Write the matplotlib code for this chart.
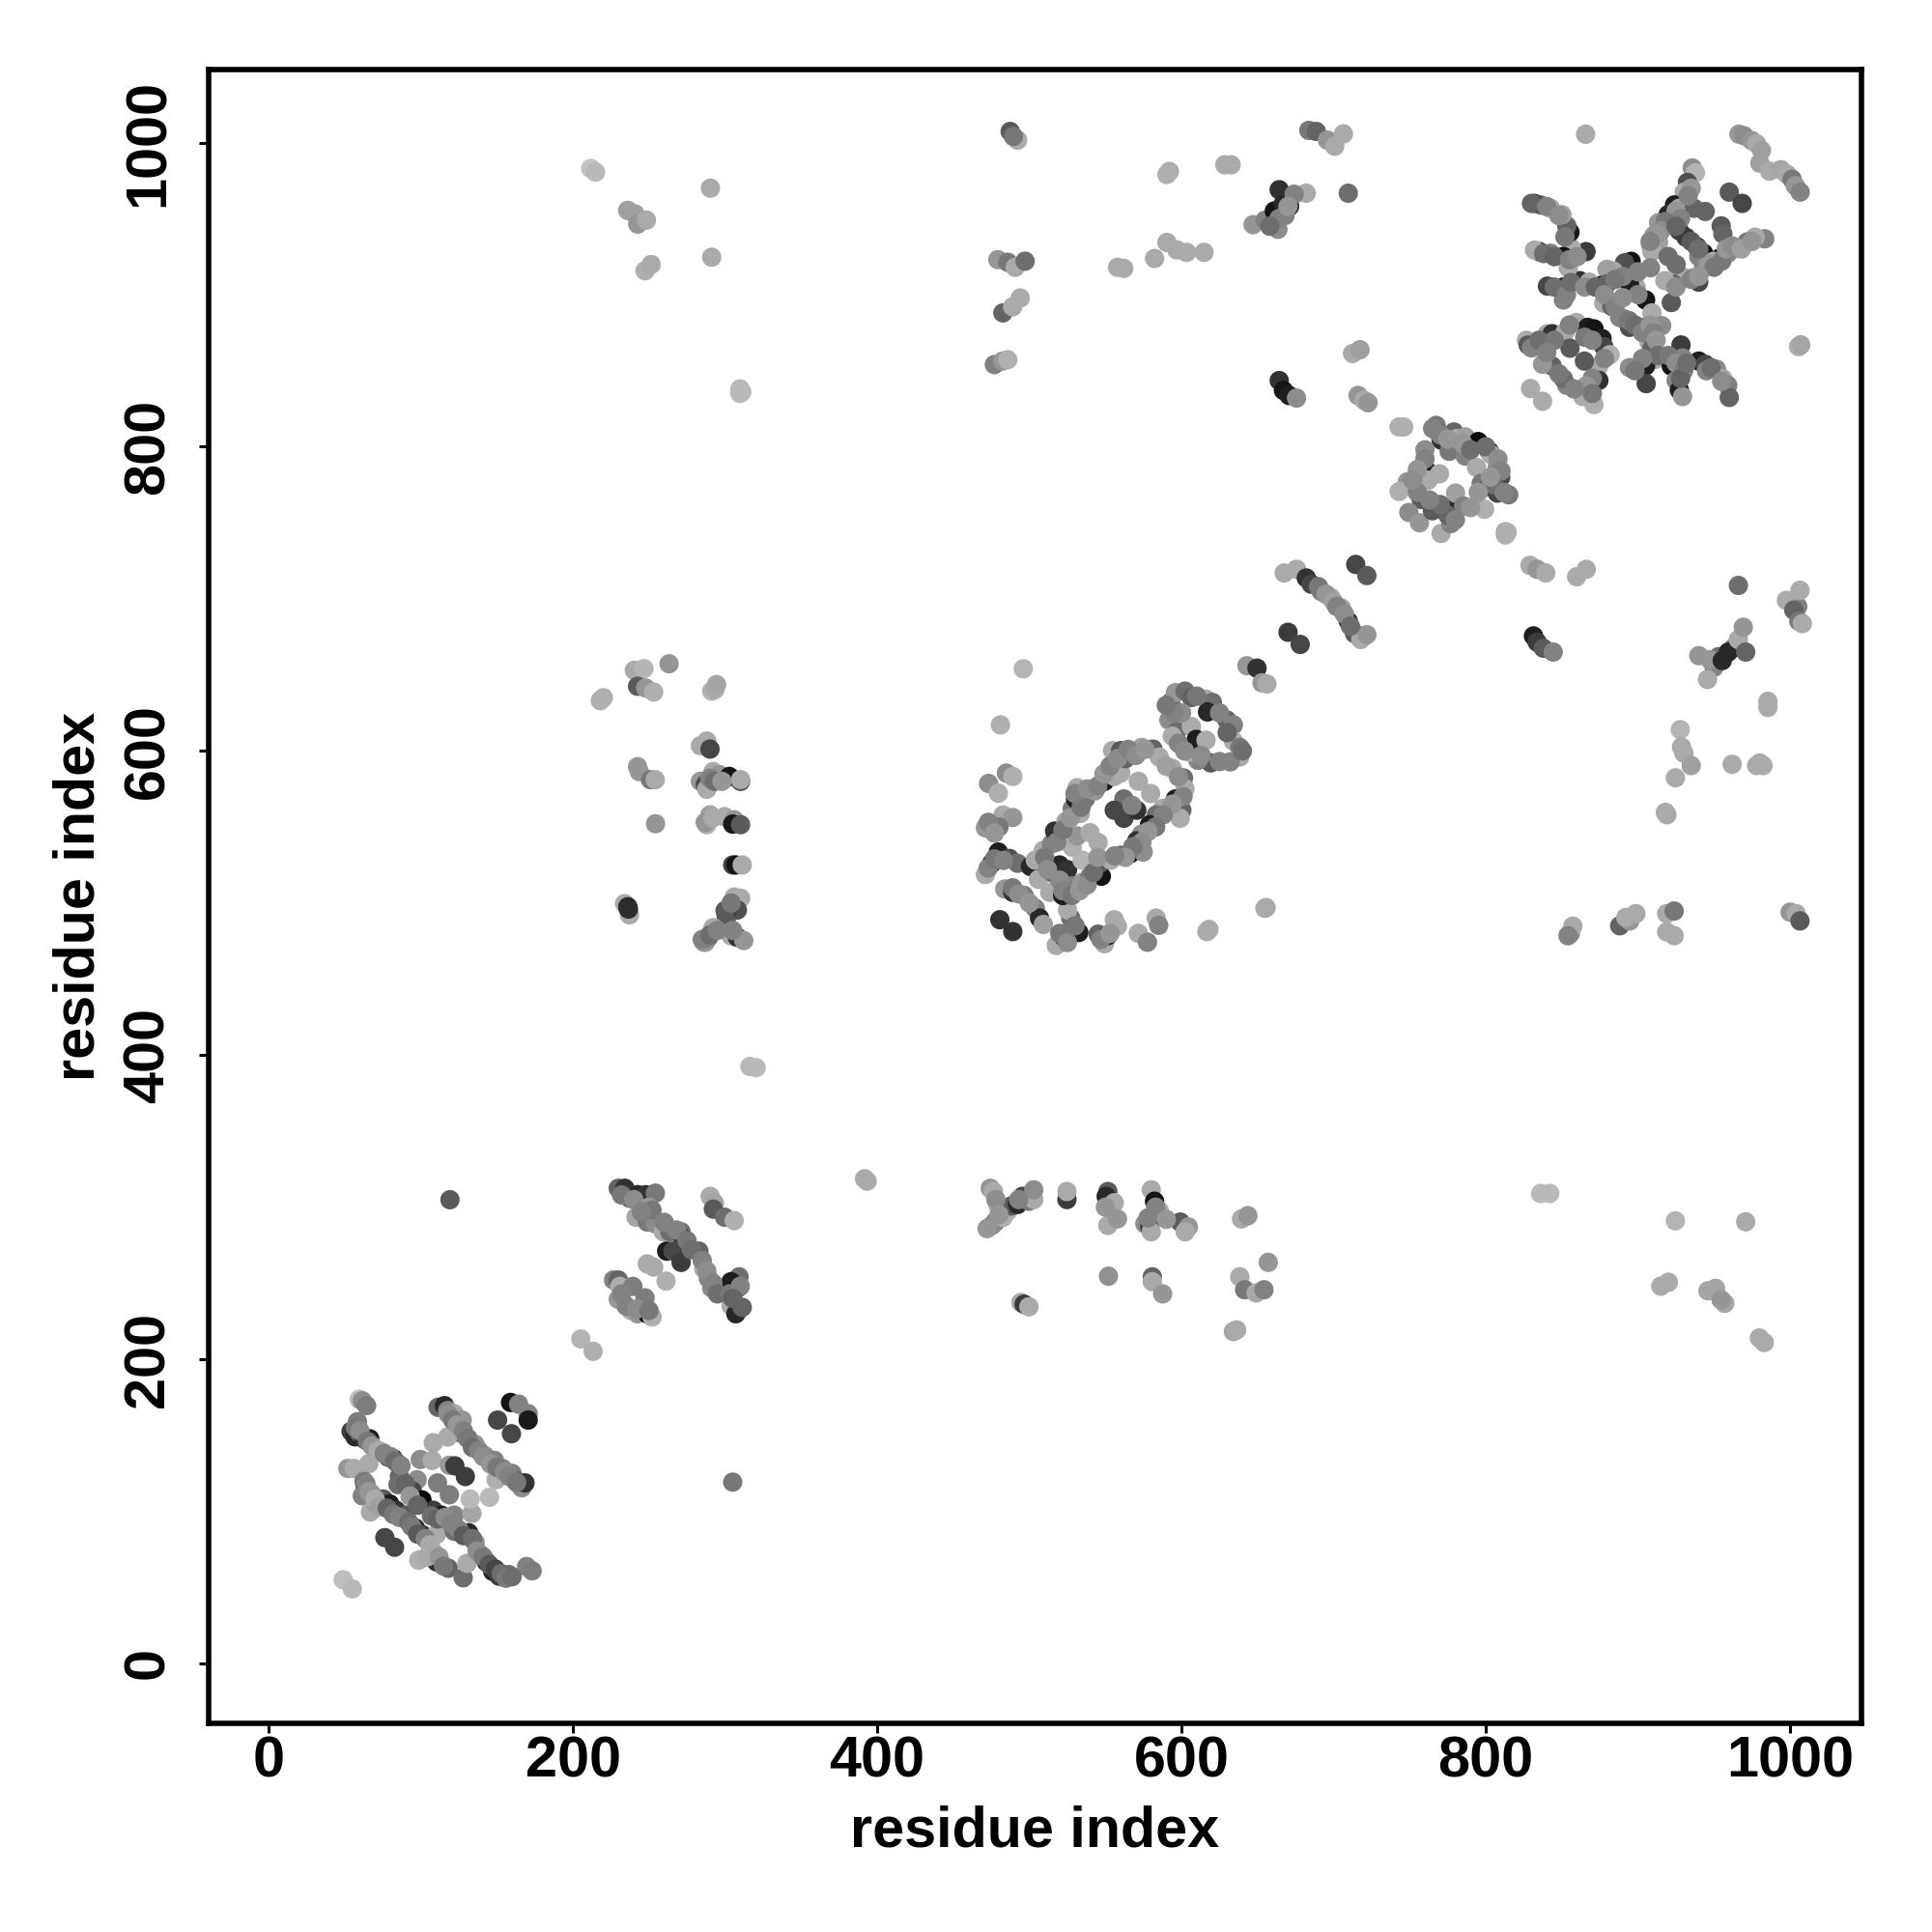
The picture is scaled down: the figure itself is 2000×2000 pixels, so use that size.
import matplotlib
matplotlib.use('Agg')
import matplotlib.pyplot as plt

# contact pairs, region by region (residue i, residue j, grey level)
nterm_x = [59.5,61.6,64.4,58.4,54.2,56.8,59.5,62.7,66.5,70,74.3,78.5,82,84.9,86,85,97.6,94.4,100.8,108.2,113.5,122,133.6,132.5,145.2,149.5,
           111.4,115.6,117.7,122,127.2,126.2,130.4,135.7,142,145.2,148.4,153.7,160,166.4,162,168.5,159,164.3,170.6,170.6,150.5,159.6,
           108.2,117.7,99.7,107.5,118.8,122.4,129.3,111,118.8,52.1,56.3,65.9,62.7,63.7,61.6,68,66.9,75.4,70.1,79.6,83.8,90.2,96.5,100.8,110.3,122,131.5,135.7,
           76.4,82.8,98.7,108.2,110.3,118.1,127.9,130.4,139.9,143.1,147.3,151.6,157.9,169.6,173.2,49,55]
nterm_y = [173.7,172.7,169.5,158.9,152.6,149,151.5,147.7,147.7,140.9,138.8,135.6,134.6,131.4,122.9,117.6,120.8,113.4,107.5,100.7,97.5,97.5,98.6,108.1,109.2,120.8,
           168.4,169.5,166.3,164.2,160,151.5,148.3,144.1,136.7,133.5,133.5,128.2,125,115.5,120.8,118.7,171.6,170.5,164.2,160,160,151,
           145.1,148.9,134.1,133.5,130.3,129.9,122.9,118.7,110.9,128.2,128.2,131.4,119.7,115.5,110.2,111.3,99.6,108.1,104.9,104.9,100.7,97.5,89,84.8,84.8,86.9,85.9,79.5,
           82.7,76.4,67.9,73.2,66.8,62.6,56.3,65.8,71.1,66.8,60.5,57.3,58.4,63.7,60.9,55,49]
nterm_g = [190,140,125,125,60,40,90,50,30,175,120,100,30,120,100,110,140,70,8,60,30,130,165,185,185,175,
           100,40,130,170,150,90,140,150,150,40,130,130,130,140,100,50,20,130,130,25,70,70,
           170,170,140,170,150,60,60,125,125,150,170,170,120,40,130,170,170,90,160,30,50,90,40,60,170,110,40,140,
           70,70,175,170,50,100,110,170,160,30,40,60,110,130,125,190,185]
nterm_fill_x = [57,60,65,68,72,76,80,83,87,64,66,70,73,78,82,86,92,94,98,103,106,104,112,115,
                90,93,98,107,111,116,120,125,128,134,137,141,145,149,153,156,160,
                118,121,124,128,131,134,138,141,146,150,155,158,163]
nterm_fill_y = [155,153,146,143,140,138,136,133,130,118,113,108,103,102,98,96,93,90,85,82,78,70,70,64,
                118,110,104,97,95,96,92,88,84,82,74,70,65,62,59,56,57,
                164,160,157,153,148,142,140,136,131,129,126,123,119]
nterm_fill_g = [120,140,120,150,170,130,130,110,130,130,150,170,160,100,120,130,110,120,90,130,170,170,150,120,
                100,150,100,110,100,140,130,130,90,110,140,120,90,70,110,120,110,
                140,120,150,130,120,110,130,140,150,120,140,130,120]

dom2_x = [205.2,213.3,229.8,234.1,237.3,242.5,247.8,254.2,241.5,248.9,254.2,259.5,263.7,271.1,272.2,261.6,265.8,271.1,282.8,286,289.1,291.2,
          309.2,303.9,308.2,303.9,307.1,311.3,290.2,292.9,292.3,299.7,306,248.9,253.1,261.2,226.7,229.8,230.9,239.4,229.8,247.4,238.3,242.5,248.9,252.1]
dom2_y = [213.3,205.2,312.4,312.4,306,308.2,308.2,309.2,293.4,290.2,289.1,283.8,283.8,283.8,279.6,271.1,271.1,263.7,271.1,259.5,253.1,246.8,
          254.2,251,246.8,235.2,229.9,234.1,307.1,302.9,298.7,293.4,291.2,262.7,260.6,251.4,252.1,252.1,247.9,247.9,239.4,240.4,232,229.9,229.9,227.8]
dom2_g = [180,175,100,50,90,40,50,120,165,120,140,170,110,110,60,30,70,60,100,170,130,140,
          110,30,20,170,40,100,170,165,90,110,175,170,170,175,130,100,175,125,150,125,170,150,20,175]
dom2_fill_x = [232,240,250,252,245,260,268,275,278,285,288,292,295,303,310,305,232,235,242,250]
dom2_fill_y = [308,305,300,298,297,290,285,278,272,265,258,250,243,243,248,240,243,235,233,232]
dom2_fill_g = [120,140,150,120,130,130,130,120,110,130,140,130,110,120,130,100,130,130,140,120]

row300_x = [474.3,476.4,479.6,486,477.5,475.4,472.2,482.8,488.1,492.3,495.5,499.7,502.9,502.9,524.7,524.7,551.6,550.5,555.8,551.6,557.9,
            580.1,582.3,585.4,575.9,579.1,580.1,599.2,604.5,602.4,639.4,643.6,552,580.8,580.8,587.6,657,638.3,641.5,649,654.2,494.4,496.5,499.7,634.1,636.2,
            478,480,493,550,583,578,590]
row300_y = [312.4,310.3,300.8,297.6,290.2,288,285.9,293.4,300.8,301.8,307.1,303.9,305,311.4,305,310.3,310.3,307.1,302.9,288,292.3,
            311.4,303.9,297.6,289.1,287,283.8,290.2,287,283.8,292.3,294.4,254.6,254.2,251,243,263.7,254.2,245.7,243.6,245.7,237.3,236.2,234.5,218.2,219.3,
            305,295,305,300,300,293,292]
row300_g = [150,170,170,175,110,140,150,175,90,40,70,120,170,140,60,170,90,40,170,170,150,
            170,20,170,140,60,170,90,150,170,170,150,145,100,170,150,150,170,120,170,130,170,60,170,165,170,
            140,150,130,150,130,130,150]

col300_x = [218,220,240.4,246.7,263.2,242.5,247.8,253.1,291.2,293.3,294.4,283.8,288,290.1,242.5,243.6,251,254.1,283.8,287,288,292.2,296.5,302.8,310.2,310.2,
            254.3,288,290.1,299.6,306,305,310.2,305,307,311.3,234,236.1,237.2,236.5,306,310.2,308.1,300.7,300.7,292.2,285.9,287,289.1,303.9,308.1,312.3,
            290,293,298,287,292,285,290,295,300,304,305]
col300_y = [633,635,653,654.1,657.3,642.5,641.4,638.7,639.3,640.4,643.6,603.4,606.5,601.2,589.6,586.4,581.1,581.1,580,577.9,574.8,586.4,584.3,583.2,580,581.1,
            552.1,551.5,557.9,556.8,554.7,551.9,551.5,525,525,525,499.6,497.5,492.2,496,503.9,503.2,495.4,492.2,488,483.8,474.2,474.2,477.4,478.5,477.4,475.3,
            582,580,580,553,556,476,479,482,495,500,482]
col300_g = [175,175,170,180,150,90,150,175,180,170,165,170,170,70,150,150,120,170,150,80,170,170,150,20,70,170,
            150,175,160,170,150,25,90,70,20,170,170,40,170,45,170,170,80,60,90,170,170,150,130,170,50,150,
            130,110,150,150,170,130,110,130,90,120,130]

dom3_x = [496,481,484.9,489.1,473.2,479.6,471.1,475.3,482.7,489.1,471.1,475.3,479.6,487,492.3,483.8,489.1,496.5,503.9,506.7,509.2,480.6,489.1,
          517.7,522.9,527.2,532.5,527.2,525.1,545.2,549.4,551.5,557.9,555.8,571.6,583.3,585,577.6,616.7,654.8,
          500.7,503.9,509.2,514.5,516.6,506,513.4,515.5,519.8,525.1,521.9,528.2,534.6,539.9,547.3,546.2,534.6,528.2,531.4,539.9,545.2,524,528.2,533.5,530.4,536.7,531.4,543,549.4,555.8,560,
          554.7,560,563.2,568.5,573.7,581.2,585.4,593.9,601.3,602.3,596,600.2,599.1,571.6,579.7,562.1,555.8,562.1,570.6,567.4,587.5,583.3,579,573.7,570.6,566.3,574.8,560,553.6,
          592.8,596,602.3,606.5,616.1,620.3,617.1,629.8,634.1,634.1,638.3,638.3,632,619.2,610.8,605.5,591.7,597,593.9,606.5,609.7,616.1]
dom3_y = [654,617.1,585.4,583.2,578.6,572.2,549.4,551.5,557.8,556.2,518.7,526.1,533.5,529.3,526.1,509.2,507,505,496.5,490.1,485.9,489,481.2,
          472.1,477.4,479.5,480.6,490.1,495.4,479.5,473.2,478.5,484.8,489,480,490.1,485.3,474.2,481.2,496.5,
          524,528.2,534.6,538.8,547.3,515.5,507,519.7,525,521.9,504.9,511.3,513.4,517.6,517.6,526.1,528.2,536.7,544.1,546.2,539.8,553.6,562.1,558.9,568.4,568.4,575.8,573.7,580,583.2,585.4,
          600.2,600.2,594.9,599.1,602.3,601.2,595.9,588.5,582.2,575.2,568.4,561,555.7,580,572,568.4,561,555.7,561,564.2,562.1,557.8,551.5,545.2,540.9,532.4,533.5,531.4,528.2,
          631.9,638.3,639.3,635.1,634,631.9,625.6,620.3,617.1,606.5,602.3,596,592.8,592.1,593.8,599.1,620.3,612.9,609.7,616,607.6,607]
dom3_g = [180,175,140,175,140,175,150,30,170,150,170,20,30,80,110,150,50,125,130,40,160,50,50,
          170,30,40,30,110,170,100,170,30,170,170,170,170,130,130,170,170,
          40,170,170,130,50,170,170,110,40,50,30,130,150,120,20,90,180,175,150,170,170,165,120,170,30,110,170,150,20,170,170,
          170,90,100,30,160,100,170,170,110,170,30,100,170,170,170,110,70,70,50,130,170,110,30,140,50,20,140,110,170,
          100,150,110,100,170,110,40,100,130,170,120,170,130,90,130,170,140,110,170,170,30,170]
dom3_fill_x = [510,512,520,522,528,533,538,542,545,518,522,527,534,530,538,545,549,553,558,565,570,576,590,598,601,594,588,583,578,574,568,563,556,
               480,473,477,473,477,483,489,493,500,520,525,530,547,553,600,595,590,598,602,613,625,640,625,610,630]
dom3_fill_y = [530,522,515,508,505,508,512,520,530,540,548,556,563,572,575,577,585,590,595,601,597,601,590,583,570,565,558,550,547,540,537,530,531,
               550,553,546,523,529,528,510,506,500,480,474,485,476,480,625,625,630,605,600,597,593,600,625,636,612]
dom3_fill_g = [120,140,140,130,120,150,140,110,150,130,120,150,120,130,140,130,150,130,140,130,140,150,160,140,130,150,130,120,150,140,120,150,130,
               120,130,150,130,120,130,120,140,150,120,140,120,130,150,140,130,120,130,140,140,130,110,130,120,100]

diag_x = [643,649.6,652.9,656.1,670,678,667.5,675.6,682,685.3,691.8,698.3,705,709.6,713.7,717.8,721.8,714.5,721.8,
          743,746,767.4,768.5,770.6,775.9,779,781.2,786.5,786.5,795,802.3,803.4,807.6,809.8,793.9,797,801.3,807.6,815,799.2,812.9,812.9,
          760,761.1,769.5,748.4,743,757.9,762.1,757.5,749.4,756.4,764.9,770.6,777,775.9,780.1,785.4,
          829,833.7,839.4,859.7,866,831.3,833.7,837.8,844.3]
diag_y = [656,654.4,644.8,644,678,670,717,719.4,713.7,709.6,704.8,700.7,694,685.3,677.2,673.2,676.4,722.6,715.3,
          813,813,814,809.7,804.4,797,809.7,805.5,806.5,793.8,803.4,797,794.9,786.4,780,786.4,775.9,773.7,769.5,768.4,758.9,742,744.1,
          798,784.3,782.2,776.9,770.6,776.9,778,765.3,756.8,750,757.9,743,749.4,758.9,769.5,761,
          722,719.4,717,714.5,719.4,675.6,671.5,667.5,665]
diag_g = [150,50,150,170,60,70,170,170,50,70,130,170,160,50,90,170,150,70,90,
          175,175,120,100,50,120,100,170,160,130,10,30,170,140,70,170,120,100,70,120,175,175,170,
          140,30,170,150,175,100,170,90,140,150,90,170,130,40,160,130,
          170,150,170,170,170,30,60,90,130]
diag_fill_x = [765,770,775,785,790,800,808,810,805,803,812,795,760,755,755,752,775,780,790,770,763,
               690,695,700,702,707,711,950,953,963,1005]
diag_fill_y = [812,808,805,802,798,800,792,784,775,780,770,770,792,785,770,778,755,752,760,762,765,
               708,703,698,695,690,682,655,662,668,695]
diag_fill_g = [130,130,150,150,110,110,140,130,110,150,130,150,130,150,130,140,100,130,150,110,130,
               120,150,160,130,140,110,130,110,130,130]

topleft_x = [211.7,214.9,236,240.9,242.6,248.3,247.4,251.4,290.4,291.2,309.8,309.8,311]
topleft_y = [983,980.5,955.4,953,946.4,949,915.7,919.8,970,924.6,838,835,836]
topleft_g = [195,185,160,160,150,170,175,170,170,170,185,185,185]

topmid_x = [487.4,492.3,489.5,683.7,688.6,695.9,700.7,706.4,632.6,628.5,592,590.4,647,655,663.4,664.2,661,667,671,682,674,709.6,
            479.3,485.8,490.7,497.2,482.6,489,494,477,482.6,485.8,558,562,582.3,590.4,596.9,603.4,614.8,712.4,717.3,716,720,722.6,664.2,667,670.7,675.6,
            664,668,658,670]
topmid_y = [1007.3,1001.6,1004,1008,1007.3,1001.6,997.6,1005.7,985.4,985.4,981,979,946,949,943,969,955,960,958,966.7,966,966.7,
            923,921.3,918,922,888,892,897.8,854,856.4,857.2,918,917.3,923.8,934.3,929.4,927.8,927.8,861.3,863.8,833.7,830.5,828.9,843.5,837,833.7,832,
            950,952,945,958]
topmid_g = [90,170,120,120,100,150,170,170,170,170,170,175,150,130,140,50,20,40,30,170,130,110,
            150,120,170,110,100,170,170,130,150,175,170,170,170,170,170,170,170,170,160,150,170,150,50,20,30,140,
            130,130,110,150]

cross_x = [966.4,969.6,974.8,978,981.2,980.1,986.5,993.9,998.1,1001.3,1003.4,1006.6,935.7,937.8,932.5,930.4,924,927.2,919.8,913.5,918.8,910.3,908.2,913.5,909.2,
           936.8,944.2,927.2,931.5,938.9,943.1,954.7,955.8,960,968.5,983.3,977,971.7,965.3,959,953.7,949.4,943.1,936.8,939.9,930.4,923,917.7,919.8,925.1,908.2,
           895.5,891.2,883.8,879.6,875.4,879.6,865.9,856.3,851,842.6,835.2,832,855.3,853.2,850,842.6,836.2,832,840.5,851,851,861.6,868,854.2,
           877.5,882.8,891.2,894.4,898.7,894.4,905,909.2,921.9,915.6,905,907.1,909.2,911.4,894.4,905,905.4,928.3,929.3,921.9,925.1,927.2,929.3,940,944.2,951.6,955.8,959,960,
           826.7,827.8,837.3,840.5,843.6,852.1,859.5,866.9,871.1,876.4,877.5,881.7,874.3,874.3,868,871.1,863.7,853.2,851,843.6,837.3,855.3,864.8,829.4,837.3,865.6,1005.5]
cross_y = [1005.5,1004.5,1001.3,999.2,994.9,986.5,981.2,982.2,979,975.9,971.6,967.4,983.3,980.1,973.8,967.4,959,956.8,952.6,947.3,945.2,938.8,932.5,934.6,928.3,
           956.8,954.7,942,937.8,931.4,927.2,945.2,939.9,967.4,960,936.7,937.8,934.6,930.4,927.2,924,921.9,917.7,911.3,908.2,911.3,907.1,909.2,925.1,919.8,917.7,
           921.9,920.9,915.6,916.6,906,907.1,928.3,930.4,925.1,927.2,928.3,929.3,941,945.2,952.6,956.8,958.9,960,905.6,905,896.5,909.2,908.2,917.7,
           894.4,892.3,883.8,878.5,905,907.1,896.5,888,894.8,879.6,878.5,869,864.8,857.4,852,853.1,841.5,866.9,858.4,853.1,843.6,837.3,833,856.3,854.2,851,844.7,840.4,832.4,
           870,866.9,869,874.3,874.3,875.4,881.7,878.5,877.5,871.1,865.8,860.5,853.1,843.6,838.3,827.7,833,840.4,844.7,853.1,854.2,864.8,856.3,838.3,829.9,1005.5,865.8]
cross_g = [150,140,150,170,160,160,170,165,170,120,150,130,140,180,80,170,30,170,40,150,170,170,170,160,170,
           100,100,60,60,50,10,90,100,90,70,130,170,120,165,130,25,170,130,170,70,170,100,170,110,110,130,
           20,80,170,160,30,100,60,170,20,130,40,170,25,100,160,170,100,70,70,20,130,50,170,170,
           170,100,100,80,170,30,20,170,90,140,30,170,100,170,140,30,70,60,130,20,130,30,150,30,70,140,170,130,100,
           170,90,40,170,50,170,170,30,20,30,70,175,170,50,40,175,170,130,110,100,150,90,90,170,170,170,175]
cross_fill_x = [925,928,918,915,912,908,935,933,940,946,950,955,958,962,968,975,925,935,940,925,935,940,
                830,840,848,852,838,845,855,860,845,853,856,865,872,878,885,888,894,898,903,908,910,912,913,903,898,
                920,925,930,928,932,945,948,955,830,835,845,855,865,870,878,870,866,870,858,848,840,890,900,900,890,885]
cross_fill_y = [955,950,948,942,940,935,970,965,925,920,918,922,930,932,930,935,905,910,912,945,935,930,
                960,958,952,938,927,925,923,925,905,900,908,905,905,900,892,885,883,880,875,880,875,870,860,858,850,
                860,855,850,845,855,850,852,843,865,870,870,880,872,870,858,845,840,835,838,848,862,912,915,900,898,910]
cross_fill_g = [150,130,120,140,150,130,150,130,130,150,120,120,150,140,160,150,140,130,150,100,90,110,
                100,130,140,120,110,100,130,140,110,130,110,140,100,140,130,130,120,110,130,150,130,150,110,130,120,
                120,140,130,100,110,130,110,140,130,110,120,130,120,130,130,130,150,120,130,120,130,130,130,130,140,120]

sparse_x = [119.2,305,391.7,393.4,316.3,320.4,836,842,924.6,970.8,915,920,946,951,957,954.6,979.8,983,
            814,1007,966,940,947.3,945.7,955.4,959.4,966,969.2,970.8,997.6,1006.5,1002.4,1005.7,1008,927.8,928.6,930.2,935,924.6,918,919,
            961.9,978,982.2,980,985.4,985.4,855.6,857.2,854,888,894.6,898.6,892,918.9,923.8,918.9,923.8,1000,1004,1006.5,655.6,618]
sparse_y = [304.9,119.2,318.7,317.1,392.5,391.7,309,309,291,290.4,248,250.6,245,246.6,236.8,239.2,214,211,
            743.7,867,708.8,662.6,660,647,659.4,665,673.2,681.3,665,699,705.6,692.6,685.3,683.7,614,602.6,598.5,590.4,582.3,559.6,558,
            591.2,590.4,590.4,592,632.6,628.6,480,484.8,478.5,485,488.2,493,490.5,493,494.7,481,478.5,494,493,488.2,497,482.6]
sparse_g = [90,120,170,170,185,185,185,185,180,170,170,170,165,165,165,150,170,170,
            175,165,110,150,150,170,40,40,170,150,100,170,170,100,120,170,180,170,170,160,170,170,170,
            170,170,170,170,170,170,140,170,130,100,150,170,170,170,120,170,170,150,170,90,170,170]

tick_values = [0, 200, 400, 600, 800, 1000]
axis_label = 'residue index'

regions = [(nterm_x, nterm_y, nterm_g), (nterm_fill_x, nterm_fill_y, nterm_fill_g),
           (dom2_x, dom2_y, dom2_g), (dom2_fill_x, dom2_fill_y, dom2_fill_g),
           (row300_x, row300_y, row300_g), (col300_x, col300_y, col300_g),
           (dom3_x, dom3_y, dom3_g), (dom3_fill_x, dom3_fill_y, dom3_fill_g),
           (diag_x, diag_y, diag_g), (diag_fill_x, diag_fill_y, diag_fill_g),
           (topleft_x, topleft_y, topleft_g), (topmid_x, topmid_y, topmid_g),
           (cross_x, cross_y, cross_g), (cross_fill_x, cross_fill_y, cross_fill_g),
           (sparse_x, sparse_y, sparse_g)]

plt.rcParams['font.family'] = ['Liberation Sans', 'DejaVu Sans']
plt.rcParams['font.weight'] = 'bold'

fig = plt.figure(figsize=(10, 10), dpi=200)
ax = fig.add_axes([216/2000, 1 - 1784/2000, (1927-216)/2000, (1784-72)/2000])

for xs, ys, gs in regions:
    ax.scatter(xs, ys, s=52, c=[str(g/255) for g in gs], linewidths=0)

ax.set_xlim(-39.4, 1046.9)
ax.set_ylim(-39.4, 1048)
ax.set_xticks(tick_values)
ax.set_yticks(tick_values)
ax.tick_params(axis='x', length=3.5, width=1.1, labelsize=21.4, pad=1)
ax.tick_params(axis='y', length=3.5, width=1.1, labelsize=21.4, pad=9)
plt.setp(ax.get_yticklabels(), rotation=90, va='center')
ax.set_xlabel(axis_label, fontsize=21.4, fontweight='bold', labelpad=6)
ax.set_ylabel(axis_label, fontsize=21.4, fontweight='bold', labelpad=6)
for s in ax.spines.values():
    s.set_linewidth(2.0)

fig.savefig('out.png', dpi=200)
